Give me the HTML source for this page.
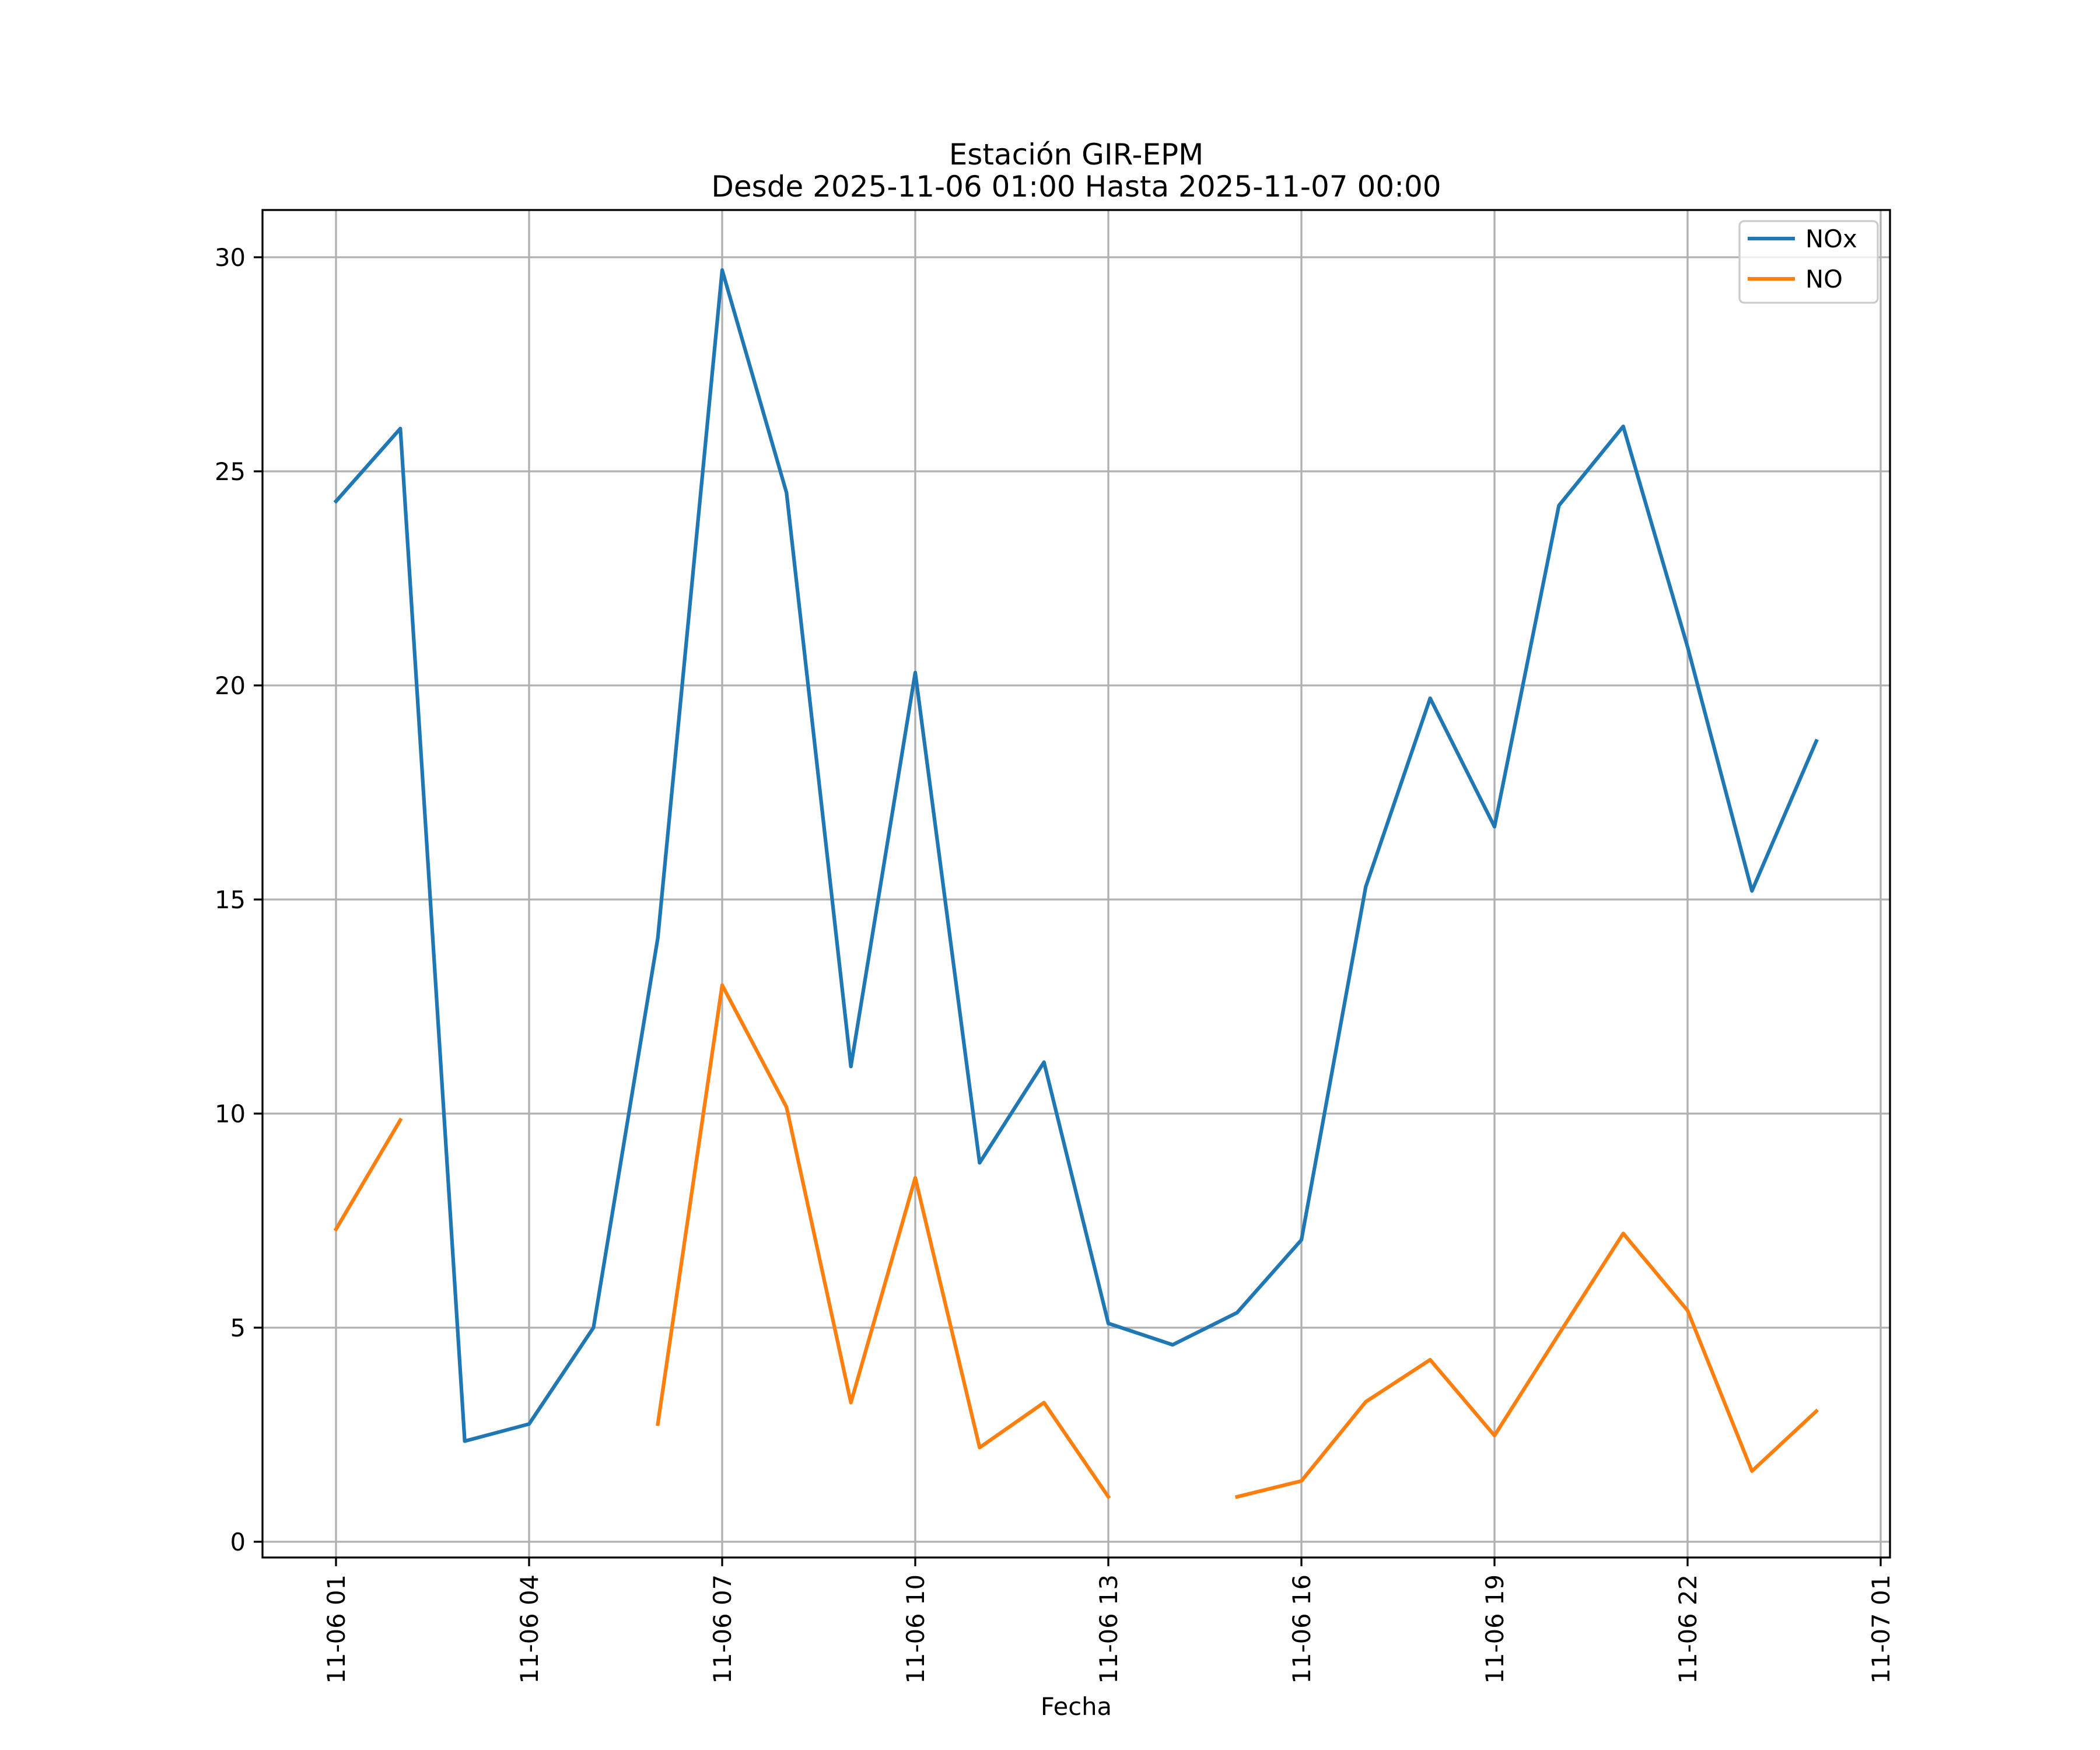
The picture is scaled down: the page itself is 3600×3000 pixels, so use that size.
<!DOCTYPE html>
<html><head><meta charset="utf-8">
<style>
html,body{margin:0;padding:0;background:#fff;}
svg{display:block;font-family:"DejaVu Sans","Liberation Sans",sans-serif;}
</style></head>
<body>
<svg id="chart" width="3600" height="3000" viewBox="0 0 3600 3000" xmlns="http://www.w3.org/2000/svg">
<rect width="3600" height="3000" fill="#fff"/>
<text x="1845" y="282" font-size="50" text-anchor="middle">Estación GIR-EPM</text>
<text x="1845" y="337" font-size="50" text-anchor="middle">Desde 2025-11-06 01:00 Hasta 2025-11-07 00:00</text>
<g id="grid"></g>
<g id="series"></g>
<rect x="450" y="360" width="2790" height="2310" fill="none" stroke="#000" stroke-width="3.3"/>
<g id="ticks"></g>
<text x="1845" y="2940" font-size="41.7" text-anchor="middle">Fecha</text>
<g>
<rect x="2982" y="379" width="237" height="140" rx="8" fill="#fff" fill-opacity="0.8" stroke="#ccc" stroke-width="3.3"/>
<line x1="2996" y1="409" x2="3077" y2="409" stroke="#1f77b4" stroke-width="6.25"/>
<text x="3095" y="424" font-size="41.7">NOx</text>
<line x1="2996" y1="478" x2="3077" y2="478" stroke="#ff7f0e" stroke-width="6.25"/>
<text x="3095" y="493" font-size="41.7">NO</text>
</g>
</svg>
<script>
const hours = [1,2,3,4,5,6,7,8,9,10,11,12,13,14,15,16,17,18,19,20,21,22,23,24];
const noxValues = [24.3,26.0,2.35,2.75,5.0,14.1,29.7,24.5,11.1,20.3,8.85,11.2,5.1,4.6,5.35,7.05,15.3,19.7,16.7,24.2,26.05,20.9,15.2,18.7];
const noValues = [7.3,9.85,null,null,null,2.75,13.0,10.15,3.25,8.5,2.2,3.25,1.05,null,1.05,1.42,3.27,4.25,2.48,4.85,7.2,5.4,1.65,3.05];
const yTicks = [0,5,10,15,20,25,30];
const xTickHours = [1,4,7,10,13,16,19,22,25];
const xTickLabels = ["11-06 01","11-06 04","11-06 07","11-06 10","11-06 13","11-06 16","11-06 19","11-06 22","11-07 01"];

const NS="http://www.w3.org/2000/svg";
function xs(h){return 576+(h-1)*(3224-576)/24;}
function ys(v){return 2643-v*(2643-441)/30;}
function mk(tag,attrs,parent){const e=document.createElementNS(NS,tag);for(const k in attrs)e.setAttribute(k,attrs[k]);parent.appendChild(e);return e;}
const grid=document.getElementById('grid'),ticks=document.getElementById('ticks'),series=document.getElementById('series');

yTicks.forEach(v=>{
  const y=ys(v);
  const g=mk('line',{x1:450,x2:3240,y1:y,y2:y,stroke:'#b0b0b0','stroke-width':3.3},grid);
  
  
  const t=mk('line',{x1:435,x2:450,y1:y,y2:y,stroke:'#000','stroke-width':3.3},ticks);
  
  
  const l=mk('text',{x:421,y:y+15,'font-size':41.7,'text-anchor':'end'},ticks);
  l.textContent=v;
  
  
});
xTickHours.forEach((h,i)=>{
  const x=xs(h);
  const g=mk('line',{x1:x,x2:x,y1:360,y2:2670,stroke:'#b0b0b0','stroke-width':3.3},grid);
  
  
  const t=mk('line',{x1:x,x2:x,y1:2670,y2:2685,stroke:'#000','stroke-width':3.3},ticks);
  
  
  const l=mk('text',{x:0,y:0,'font-size':41.7,'text-anchor':'end',transform:`translate(${x+15},2699) rotate(-90)`},ticks);
  l.textContent=xTickLabels[i];
  
  
});
function draw(vals,color,name){
  let segs=[],cur=[];
  vals.forEach((v,i)=>{if(v===null){if(cur.length)segs.push(cur);cur=[];}else cur.push([xs(hours[i]),ys(v)]);});
  if(cur.length)segs.push(cur);
  segs.forEach(s=>{
    const p=mk('polyline',{points:s.map(q=>q.join(',')).join(' '),fill:'none',stroke:color,'stroke-width':6.25,'stroke-linejoin':'round','stroke-linecap':'square'},series);
    
    
  });
}
draw(noxValues,'#1f77b4','nox-line');
draw(noValues,'#ff7f0e','no-line');
</script>
</body></html>
